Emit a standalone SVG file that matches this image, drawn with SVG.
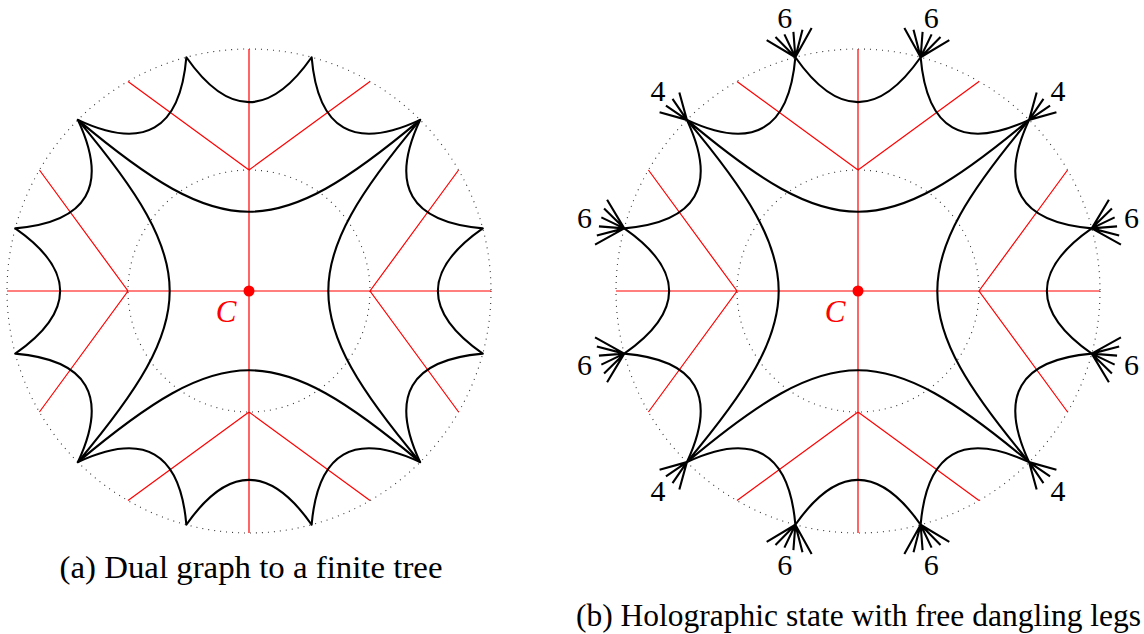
<svg xmlns="http://www.w3.org/2000/svg" xmlns:xlink="http://www.w3.org/1999/xlink" width="1144" height="634" viewBox="0 0 1144 634">
<style>
.dot{fill:none;stroke:#333;stroke-width:1.1;stroke-dasharray:1 5}
.tree{fill:none;stroke:#f00;stroke-width:1.2}
.arc{fill:none;stroke:#000;stroke-width:2.1;stroke-linejoin:round}
.leg{fill:none;stroke:#000;stroke-width:2.1}
.lbl{font-family:'Liberation Serif','DejaVu Serif',serif;font-size:30px;fill:#000;text-anchor:middle}
.cap{font-family:'Liberation Serif','DejaVu Serif',serif;font-size:31px;fill:#000;text-anchor:middle}
.cl{font-family:'Liberation Serif','DejaVu Serif',serif;font-style:italic;font-size:31px;fill:#f00;text-anchor:middle}
</style>
<defs>
<path id="fan6" class="leg" d="M242,0L266.959,-4.66M242,0L266.959,4.66M242,0L266.634,-13.974M242,0L266.634,13.974M242,0L265.984,-23.271M242,0L265.984,23.271"/>
<path id="fan4" class="leg" d="M242,0L266.959,-4.66M242,0L266.959,4.66M242,0L266.634,-13.974M242,0L266.634,13.974"/>
<path id="small-arcs" class="arc" d="M233.754,-62.634Q124.71,-72 171.12,-171.12Q72,-124.71 62.634,-233.754Q0,-144 -62.634,-233.754Q-72,-124.71 -171.12,-171.12Q-124.71,-72 -233.754,-62.634Q-144,0 -233.754,62.634Q-124.71,72 -171.12,171.12Q-72,124.71 -62.634,233.754Q0,144 62.634,233.754Q72,124.71 171.12,171.12Q124.71,72 233.754,62.634Q144,0 233.754,-62.634Z"/>
<path id="big-arcs" class="arc" d="M171.12,-171.12C25.2,-48.7 -25.2,-48.7 -171.12,-171.12C-48.7,-25.2 -48.7,25.2 -171.12,171.12C-25.2,48.7 25.2,48.7 171.12,171.12C48.7,25.2 48.7,-25.2 171.12,-171.12Z"/>
</defs>

<!-- (a) -->
<g id="disk-a" transform="translate(249,291)">
  <g id="boundary-a">
    <circle class="dot" r="242"/>
    <circle class="dot" r="121"/>
  </g>
  <g id="tree-a">
    <path class="tree" d="M-242,0H242M0,-242V242M-209.578,-121L-121,0L-209.578,121M209.578,-121L121,0L209.578,121M-121,-209.578L0,-121L121,-209.578M-121,209.578L0,121L121,209.578"/>
  </g>
  <g id="edges-a">
    <use xlink:href="#small-arcs" href="#small-arcs"/>
    <use xlink:href="#big-arcs" href="#big-arcs"/>
  </g>
  <g id="center-a">
    <circle r="5.5" fill="#f00"/>
    <text class="cl" x="-23" y="31">C</text>
  </g>
</g>
<text id="caption-a" class="cap" x="251" y="578" textLength="383" lengthAdjust="spacingAndGlyphs">(a) Dual graph to a finite tree</text>

<!-- (b) -->
<g id="disk-b" transform="translate(858,291)">
  <g id="boundary-b">
    <circle class="dot" r="242"/>
    <circle class="dot" r="121"/>
  </g>
  <g id="tree-b">
    <path class="tree" d="M-242,0H242M0,-242V242M-209.578,-121L-121,0L-209.578,121M209.578,-121L121,0L209.578,121M-121,-209.578L0,-121L121,-209.578M-121,209.578L0,121L121,209.578"/>
  </g>
  <g id="edges-b">
    <use xlink:href="#small-arcs" href="#small-arcs"/>
    <use xlink:href="#big-arcs" href="#big-arcs"/>
  </g>
  <g id="legs-b">
    <use id="v15" xlink:href="#fan6" href="#fan6" transform="rotate(-15)"/>
    <use id="v45" xlink:href="#fan4" href="#fan4" transform="rotate(-45)"/>
    <use id="v75" xlink:href="#fan6" href="#fan6" transform="rotate(-75)"/>
    <use id="v105" xlink:href="#fan6" href="#fan6" transform="rotate(-105)"/>
    <use id="v135" xlink:href="#fan4" href="#fan4" transform="rotate(-135)"/>
    <use id="v165" xlink:href="#fan6" href="#fan6" transform="rotate(-165)"/>
    <use id="v195" xlink:href="#fan6" href="#fan6" transform="rotate(-195)"/>
    <use id="v225" xlink:href="#fan4" href="#fan4" transform="rotate(-225)"/>
    <use id="v255" xlink:href="#fan6" href="#fan6" transform="rotate(-255)"/>
    <use id="v285" xlink:href="#fan6" href="#fan6" transform="rotate(-285)"/>
    <use id="v315" xlink:href="#fan4" href="#fan4" transform="rotate(-315)"/>
    <use id="v345" xlink:href="#fan6" href="#fan6" transform="rotate(-345)"/>
  </g>
  <g id="center-b">
    <circle r="5.5" fill="#f00"/>
    <text class="cl" x="-23" y="31">C</text>
  </g>
</g>
<g id="labels-b">
  <text class="lbl" x="1131.4" y="228">6</text>
  <text class="lbl" x="1058.1" y="101">4</text>
  <text class="lbl" x="931.3" y="27.8">6</text>
  <text class="lbl" x="784.8" y="27.8">6</text>
  <text class="lbl" x="657.9" y="101">4</text>
  <text class="lbl" x="584.6" y="228">6</text>
  <text class="lbl" x="584.6" y="374.5">6</text>
  <text class="lbl" x="657.9" y="501.3">4</text>
  <text class="lbl" x="784.8" y="574.6">6</text>
  <text class="lbl" x="931.3" y="574.6">6</text>
  <text class="lbl" x="1058.1" y="501.3">4</text>
  <text class="lbl" x="1131.4" y="374.5">6</text>
</g>
<text id="caption-b" class="cap" x="858.5" y="626" textLength="565" lengthAdjust="spacingAndGlyphs">(b) Holographic state with free dangling legs</text>
</svg>
